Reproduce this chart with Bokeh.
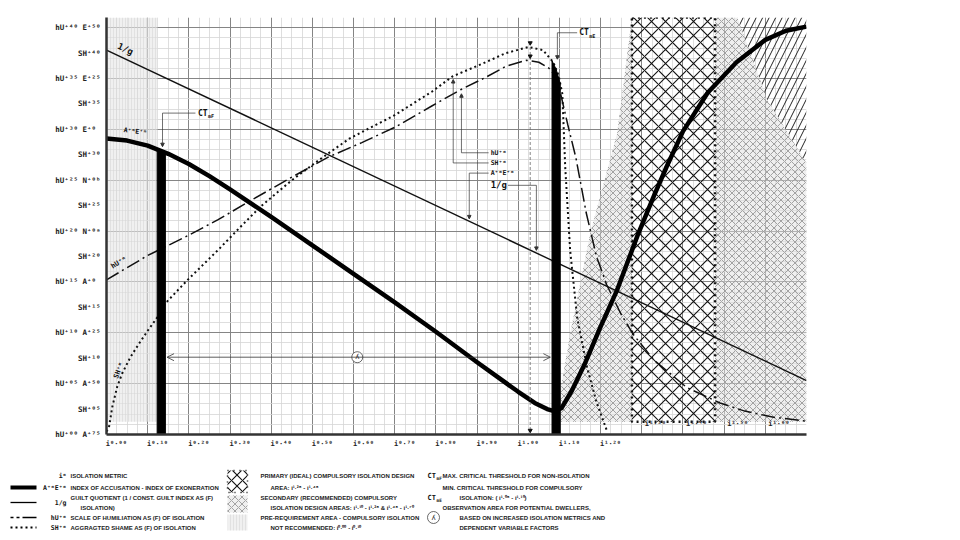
import numpy as np
from bokeh.plotting import figure
from bokeh.layouts import column
from bokeh.models import Range1d, FixedTicker, Arrow, NormalHead, OpenHead
from bokeh.core.properties import value
from bokeh.embed import file_html
from bokeh.resources import INLINE

# ---------------- data ----------------
# 1/g  (guilt quotient)
gi_x = [0.00, 1.70]
gi_y = [37.8, 5.3]

# A+E (index of accusation - index of exoneration)
ae_x = [0.00, 0.05, 0.10, 0.15, 0.20, 0.25, 0.30, 0.40, 0.50, 0.60, 0.70, 0.80, 0.90, 1.00,
        1.04, 1.07, 1.087, 1.105, 1.13, 1.16, 1.20, 1.24, 1.29, 1.33, 1.36, 1.40, 1.46, 1.53,
        1.60, 1.65, 1.70]
ae_y = [29.1, 28.9, 28.4, 27.6, 26.6, 25.4, 24.1, 21.4, 18.6, 15.8, 13.0, 10.1, 7.1, 4.2,
        3.1, 2.5, 2.3, 2.6, 4.3, 6.8, 10.6, 14.2, 19.6, 23.5, 26.3, 29.8, 33.6, 36.6,
        38.8, 39.7, 40.1]

# hU (scale of humiliation)
hu_x = [0.00, 0.05, 0.10, 0.14, 0.20, 0.27, 0.35, 0.45, 0.54, 0.62, 0.70, 0.79, 0.86, 0.92,
        0.97, 1.02, 1.05, 1.075, 1.09, 1.10, 1.12, 1.14, 1.165, 1.19, 1.215, 1.25, 1.28, 1.33,
        1.41, 1.49, 1.55, 1.62, 1.70]
hu_y = [15.2, 16.4, 17.6, 18.4, 19.6, 21.1, 23.0, 25.3, 27.3, 28.7, 30.2, 32.3, 33.9, 35.1,
        36.2, 36.8, 36.6, 36.0, 35.2, 34.0, 30.5, 27.2, 21.8, 17.5, 14.7, 11.8, 9.8, 7.3,
        4.6, 3.1, 2.3, 1.7, 1.3]

# SH (aggregated shame)
sh_x = [0.00, 0.006, 0.014, 0.026, 0.038, 0.058, 0.08, 0.10, 0.123, 0.143, 0.197, 0.27, 0.325,
        0.374, 0.45, 0.52, 0.59, 0.70, 0.79, 0.84, 0.915, 0.97, 1.025, 1.06, 1.085, 1.098,
        1.107, 1.114, 1.126, 1.143, 1.167, 1.19, 1.215]
sh_y = [0.3, 0.7, 2.7, 4.7, 6.0, 7.6, 9.0, 10.2, 11.5, 12.9, 15.2, 18.1, 20.4,
        22.4, 25.0, 27.1, 29.1, 31.4, 33.7, 35.2, 36.5, 37.5, 38.1, 37.8, 36.6, 35.3,
        33.5, 26.3, 18.1, 11.5, 6.6, 3.2, 0.4]

# critical threshold bars
bar1_x = [0.123, 0.143]
bar2_x = [1.082, 1.092, 1.102]

# design areas
prereq_x = [0.0, 0.124]
area_y = [1.25, 41.0]
primary_x = [1.276, 1.478]
sec_left_x = [1.09, 1.126, 1.175, 1.24, 1.276, 1.276]
sec_left_y = [1.25, 9.9, 19.8, 29.6, 41.0, 1.25]
sec_right_x = [1.478, 1.478, 1.532, 1.605, 1.70, 1.70]
sec_right_y = [1.25, 41.0, 41.0, 32.9, 26.7, 1.25]
hatch_x = [1.532, 1.70, 1.70, 1.605]
hatch_y = [41.0, 41.0, 26.7, 32.9]

# ticks
x_major = [0.0, 0.1, 0.2, 0.3, 0.4, 0.5, 0.6, 0.7, 0.8, 0.9, 1.0, 1.1, 1.2, 1.3, 1.4, 1.5, 1.6, 1.7]
x_labels_below = ["i⁰·⁰⁰", "i⁰·¹⁰", "i⁰·²⁰", "i⁰·³⁰", "i⁰·⁴⁰", "i⁰·⁵⁰", "i⁰·⁶⁰", "i⁰·⁷⁰",
                  "i⁰·⁸⁰", "i⁰·⁹⁰", "i¹·⁰⁰", "i¹·¹⁰", "i¹·²⁰"]
x_labels_inside = ["i¹·³⁰", "i¹·⁴⁰", "i¹·⁵⁰", "i¹·⁶⁰"]
x_inside_pos = [1.30, 1.40, 1.50, 1.60]
y_major = [0, 5, 10, 15, 20, 25, 30, 35, 40]
y_labels_major = ["hU⁺⁰⁰ A⁺⁷⁵", "hU⁺⁰⁵ A⁺⁵⁰", "hU⁺¹⁰ A⁺²⁵", "hU⁺¹⁵ A⁺⁰ ", "hU⁺²⁰ N⁺⁰ᵃ",
                  "hU⁺²⁵ N⁺⁰ᵇ", "hU⁺³⁰ E⁺⁰ ", "hU⁺³⁵ E⁺²⁵", "hU⁺⁴⁰ E⁺⁵⁰"]
y_half = [2.5, 7.5, 12.5, 17.5, 22.5, 27.5, 32.5, 37.5]
y_labels_half = ["SH⁺⁰⁵", "SH⁺¹⁰", "SH⁺¹⁵", "SH⁺²⁰", "SH⁺²⁵", "SH⁺³⁰", "SH⁺³⁵", "SH⁺⁴⁰"]

# legend texts
sym_text = ["iᵐ", "A⁺ᵐE⁺ᵐ", "1/g", "hU⁺ᵐ", "SH⁺ᵐ"]
desc1 = ["ISOLATION METRIC", "INDEX OF ACCUSATION - INDEX OF EXONERATION",
         "GUILT QUOTIENT (1 / CONST. GUILT INDEX AS (F)", "ISOLATION)",
         "SCALE OF HUMILIATION AS (F) OF ISOLATION", "AGGRAGTED SHAME AS (F) OF ISOLATION"]
desc2 = ["PRIMARY (IDEAL) COMPULSORY ISOLATION DESIGN", "AREA:  i¹·²⁸ - i¹·⁴⁸",
         "SECONDARY (RECOMMENDED) COMPULSORY",
         "ISOLATION DESIGN AREAS:  i¹·¹⁰ - i¹·²⁸ & i¹·⁴⁸ - i¹·⁷⁰",
         "PRE-REQUIREMENT AREA - COMPULSORY ISOLATION", "NOT RECOMMENDED:  i⁰·⁰⁰ - i⁰·¹⁰"]
desc3 = ["MAX. CRITICAL THRESHOLD FOR NON-ISOLATION", "MIN. CRITICAL THRESHOLD FOR COMPULSORY",
         "ISOLATION: ( i¹·⁰⁸ - i¹·¹⁰)", "OBSERVATION AREA FOR POTENTIAL DWELLERS,",
         "BASED ON INCREASED ISOLATION METRICS AND", "DEPENDENT VARIABLE FACTORS"]

MONO = value("DejaVu Sans Mono")
SANS = value("Liberation Sans")

PRE = dict(fill_color="#e6e6e6", fill_alpha=0.6, hatch_pattern="|", hatch_color="#d2d2d2",
           hatch_scale=3, hatch_weight=0.5, line_color=None)
SEC = dict(fill_color="#e0e0e0", fill_alpha=0.5, hatch_pattern="x", hatch_color="#9a9a9a",
           hatch_scale=7, hatch_weight=0.9, line_color=None)

# ---------------- main chart ----------------
p = figure(width=944, height=458, x_range=Range1d(0, 1.70), y_range=Range1d(0, 41),
           output_backend="svg", toolbar_location=None,
           min_border_left=106, min_border_right=138, min_border_top=17, min_border_bottom=24)
p.outline_line_color = None
p.background_fill_color = "white"

p.xgrid.ticker = FixedTicker(ticks=x_major, minor_ticks=list(np.round(np.arange(0, 1.7001, 0.025), 3)))
p.ygrid.ticker = FixedTicker(ticks=y_major, minor_ticks=list(range(0, 42)))
for g in (p.xgrid, p.ygrid):
    g.grid_line_color = "#858585"
    g.grid_line_width = 1
    g.minor_grid_line_color = "#d6d6d6"
    g.minor_grid_line_width = 0.8

xl_pos = [round(v + 0.024, 3) for v in x_major[:len(x_labels_below)]]
p.xaxis.ticker = FixedTicker(ticks=xl_pos)
p.xaxis.major_label_overrides = {k: t for k, t in zip(xl_pos, x_labels_below)}
yl_pos = sorted(y_major + y_half)
ylab = dict(zip(y_major, y_labels_major))
ylab.update(dict(zip(y_half, y_labels_half)))
p.yaxis.ticker = FixedTicker(ticks=yl_pos)
p.yaxis.major_label_overrides = {float(k): t for k, t in ylab.items()}
for ax in (p.xaxis, p.yaxis):
    ax.major_tick_line_color = None
    ax.minor_tick_line_color = None
    ax.major_tick_out = 0
    ax.major_tick_in = 0
    ax.axis_line_color = "#333333"
    ax.axis_line_width = 2.5
    ax.major_label_text_font = "DejaVu Sans Mono"
    ax.major_label_text_font_style = "bold"
    ax.major_label_text_color = "#222222"
p.xaxis.major_label_text_font_size = "7px"
p.yaxis.major_label_text_font_size = "7.5px"
p.xaxis.major_label_standoff = 5
p.yaxis.major_label_standoff = 6

# areas
p.quad(left=prereq_x[0], right=prereq_x[1], bottom=area_y[0], top=area_y[1], **PRE)
p.patch(sec_left_x, sec_left_y, **SEC)
p.patch(sec_right_x, sec_right_y, **SEC)
p.patch(hatch_x, hatch_y, fill_color=None, hatch_pattern="/", hatch_color="#222222",
        hatch_scale=13, hatch_weight=1, line_color=None)
p.quad(left=primary_x[0], right=primary_x[1], bottom=area_y[0], top=area_y[1],
       fill_color=None, hatch_pattern="x", hatch_color="#111111", hatch_scale=14,
       hatch_weight=1.1, line_color="#111111", line_width=2.5, line_dash="2 4")

# curves
p.line(gi_x, gi_y, line_color="#111111", line_width=1.4)
p.line(hu_x, hu_y, line_color="#111111", line_width=1.5, line_dash="14 4 2 4")
p.line(sh_x, sh_y, line_color="#111111", line_width=2, line_dash="2 3")
p.line(ae_x, ae_y, line_color="#000000", line_width=4.5, line_join="round")

# threshold bars
t1 = np.interp(bar1_x, ae_x, ae_y)
p.patch([bar1_x[0], bar1_x[0], bar1_x[1], bar1_x[1]], [0, t1[0], t1[1], 0],
        fill_color="black", line_color="black")
t2 = np.interp(bar2_x, sh_x, sh_y)
p.patch([bar2_x[0]] + bar2_x + [bar2_x[-1]], [0] + list(t2) + [0],
        fill_color="black", line_color="black")

# peak markers / dashed guide
peak_x = 1.029
p.line([peak_x, peak_x], [38.1, 0.3], line_color="#666666", line_width=0.8, line_dash="3 2")
p.scatter([peak_x, peak_x, peak_x], [38.5, 37.2, 0.4], marker="inverted_triangle", size=4,
          color="#111111")

# curve labels
p.text([0.046], [37.9], text=["1/g"], angle=-0.44, text_font=MONO, text_font_style="bold",
       text_font_size="9px", text_align="center", text_baseline="middle", text_color="#111111")
p.text([0.07], [29.8], text=["A⁺ᵐE⁺ᵐ"], angle=-0.12, text_font=MONO, text_font_style="bold",
       text_font_size="6.5px", text_align="center", text_baseline="middle", text_color="#111111")
p.text([0.03], [16.9], text=["hU⁺ᵐ"], angle=0.55, text_font=MONO, text_font_style="bold",
       text_font_size="7px", text_align="center", text_baseline="middle", text_color="#111111")
p.text([0.03], [6.3], text=["SH⁺ᵐ"], angle=1.2, text_font=MONO, text_font_style="bold",
       text_font_size="7px", text_align="center", text_baseline="middle", text_color="#111111")

# inside x labels
p.text(x_inside_pos, [1.0] * 4, text=x_labels_inside, x_offset=3, text_font=MONO,
       text_font_style="bold", text_font_size="7px", text_align="left", text_baseline="middle",
       text_color="#222222")

# annotation leaders
def leader(hx, hy, ax_, ay0, ay1):
    p.line(hx, [hy, hy], line_color="#333333", line_width=0.7)
    p.add_layout(Arrow(end=NormalHead(size=3.5, fill_color="#333333", line_color="#333333"),
                       x_start=ax_, y_start=ay0, x_end=ax_, y_end=ay1,
                       line_color="#333333", line_width=0.7))

leader([0.216, 0.136], 31.6, 0.136, 31.6, 28.3)
leader([1.143, 1.095], 39.5, 1.095, 39.5, 36.9)
leader([0.928, 0.862], 27.7, 0.862, 27.7, 33.5)
leader([0.928, 0.842], 26.7, 0.842, 26.7, 34.9)
leader([0.928, 0.881], 25.7, 0.881, 25.7, 21.2)
leader([0.975, 1.044], 24.5, 1.044, 24.5, 18.1)

ann_text = ["hU⁺ᵐ", "SH⁺ᵐ", "A⁺ᵐE⁺ᵐ"]
p.text([0.933] * 3, [27.7, 26.7, 25.7], text=ann_text, text_font=MONO, text_font_style="bold",
       text_font_size="6.5px", text_align="left", text_baseline="middle", text_color="#111111")
p.text([0.933], [24.5], text=["1/g"], text_font=MONO, text_font_style="bold",
       text_font_size="9px", text_align="left", text_baseline="middle", text_color="#111111")

# CT labels
for cx, cy, sub in [(0.222, 31.6, "mF"), (1.148, 39.5, "mE")]:
    p.text([cx], [cy], text=["CT"], text_font=MONO, text_font_style="bold", text_font_size="8px",
           text_align="left", text_baseline="middle", text_color="#111111")
    p.text([cx], [cy], text=[sub], x_offset=10, y_offset=3, text_font=MONO, text_font_style="bold",
           text_font_size="5px", text_align="left", text_baseline="middle", text_color="#111111")

# observation range arrow
p.add_layout(Arrow(start=OpenHead(size=7, line_width=0.8, line_color="#333333"),
                   end=OpenHead(size=7, line_width=0.8, line_color="#333333"),
                   x_start=0.147, y_start=7.6, x_end=1.078, y_end=7.6,
                   line_color="#333333", line_width=0.8))
p.scatter([0.609], [7.6], marker="circle", size=11, fill_color="white", line_color="#444444",
          line_width=0.8)
p.text([0.609], [7.6], text=["ʎ"], text_font=MONO, text_font_size="7px", text_align="center",
       text_baseline="middle", text_color="#222222")

# ---------------- legend strip (page-pixel coordinates) ----------------
lg = figure(width=944, height=80, x_range=Range1d(106, 806), y_range=Range1d(80, 0),
            output_backend="svg", toolbar_location=None,
            min_border_left=106, min_border_right=138, min_border_top=0, min_border_bottom=0)
lg.axis.visible = False
lg.grid.visible = False
lg.outline_line_color = None
OV = dict(level="overlay")

# column 1 samples
lg.line([10, 36], [29, 29], line_color="black", line_width=4, **OV)
lg.line([10, 36], [44, 44], line_color="black", line_width=1.3, **OV)
lg.line([10, 36], [59, 59], line_color="black", line_width=1.3, line_dash="3 3 3 3 14 1", **OV)
lg.line([10, 36], [69, 69], line_color="black", line_width=2, line_dash="2 3", **OV)

sym_y = [17, 29, 44, 59, 69]
lg.text([66] * 5, sym_y, text=sym_text, text_font=MONO, text_font_style="bold",
        text_font_size="6.5px", text_align="right", text_baseline="middle", text_color="#111111", **OV)

row_y = [17, 29, 39, 49, 59, 69]
for xs, txt in [([70, 70, 70, 80, 70, 70], desc1), ([260, 270, 260, 270, 260, 270], desc2),
                ([442, 442, 459, 442, 459, 459], desc3)]:
    lg.text(xs, row_y, text=txt, text_font=SANS, text_font_style="bold",
            text_font_size="6px", text_align="left", text_baseline="middle", text_color="#222222", **OV)

# column 2 swatches
lg.quad(left=227, right=247, top=12, bottom=34, fill_color=None, hatch_pattern="x",
        hatch_color="#111111", hatch_scale=11, hatch_weight=1.1, line_color="#111111",
        line_width=1.5, line_dash="1 5", **OV)
lg.quad(left=227, right=247, top=37, bottom=54, **SEC, **OV)
lg.quad(left=227, right=247, top=56, bottom=72, **PRE, **OV)

# column 3 symbols
for cy, sub in [(17, "mF"), (39, "mE")]:
    lg.text([427], [cy], text=["CT"], text_font=MONO, text_font_style="bold", text_font_size="7px",
            text_align="left", text_baseline="middle", text_color="#111111", **OV)
    lg.text([436], [cy + 2.5], text=[sub], text_font=MONO, text_font_style="bold",
            text_font_size="4.5px", text_align="left", text_baseline="middle", text_color="#111111", **OV)
lg.scatter([433], [59], marker="circle", size=12, fill_color="white", line_color="#444444",
           line_width=0.8, **OV)
lg.text([433], [59], text=["ʎ"], text_font=MONO, text_font_size="7px", text_align="center",
        text_baseline="middle", text_color="#222222", **OV)

layout = column(p, lg)
open("out.html", "w").write(file_html(layout, INLINE))
